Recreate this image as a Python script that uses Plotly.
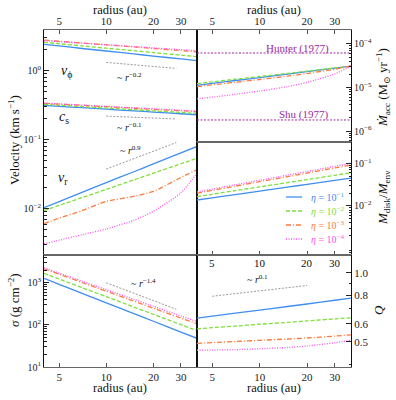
import math
import plotly.graph_objects as go

# ── data ────────────────────────────────────────────────────────────────────
radius = [4, 5, 7, 10, 15, 20, 30, 38]
eta_names = ["10<sup>−1</sup>", "10<sup>−2</sup>", "10<sup>−3</sup>", "10<sup>−4</sup>"]

v_phi = [
    [2.41, 2.29, 2.10, 1.93, 1.75, 1.63, 1.48, 1.40],
    [2.58, 2.46, 2.29, 2.12, 1.95, 1.83, 1.68, 1.60],
    [2.78, 2.67, 2.52, 2.37, 2.21, 2.10, 1.96, 1.88],
    [2.72, 2.64, 2.51, 2.38, 2.24, 2.14, 2.02, 1.95],
]
c_s = [
    [0.315, 0.305, 0.291, 0.277, 0.262, 0.252, 0.238, 0.230],
    [0.326, 0.316, 0.302, 0.288, 0.273, 0.262, 0.249, 0.241],
    [0.337, 0.328, 0.315, 0.301, 0.286, 0.276, 0.263, 0.255],
    [0.340, 0.331, 0.318, 0.305, 0.290, 0.281, 0.267, 0.260],
]
v_r = [
    [0.0104, 0.0127, 0.0173, 0.0239, 0.0344, 0.0447, 0.0646, 0.080],
    [0.0094, 0.0112, 0.0145, 0.0191, 0.0262, 0.0328, 0.0449, 0.054],
    [0.0061, 0.0073, 0.0094, 0.0128, 0.0151, 0.0178, 0.0285, 0.0367],
    [0.0031, 0.0035, 0.0042, 0.0051, 0.0068, 0.0092, 0.0170, 0.033],
]
sigma = [
    [1270, 918, 562, 335, 186, 122, 67.6, 48],
    [1675, 1227, 767, 468, 266, 178, 101, 73],
    [2150, 1596, 1016, 631, 367, 249, 145, 106],
    [2275, 1700, 1094, 687, 405, 277, 163, 120],
]
mdot_acc = [
    [1.12e-5, 1.24e-5, 1.45e-5, 1.69e-5, 2.03e-5, 2.32e-5, 2.78e-5, 3.09e-5],
    [1.23e-5, 1.35e-5, 1.55e-5, 1.79e-5, 2.11e-5, 2.38e-5, 2.81e-5, 3.09e-5],
    [1.05e-5, 1.15e-5, 1.32e-5, 1.53e-5, 1.82e-5, 2.09e-5, 2.63e-5, 3.09e-5],
    [5.5e-6, 6.0e-6, 7.0e-6, 8.3e-6, 1.05e-5, 1.32e-5, 2.05e-5, 3.09e-5],
]
m_ratio = [
    [0.0138, 0.0155, 0.0185, 0.0223, 0.0276, 0.0321, 0.0397, 0.045],
    [0.0166, 0.0188, 0.0229, 0.0280, 0.0353, 0.0416, 0.0524, 0.060],
    [0.0200, 0.0232, 0.0291, 0.0371, 0.0486, 0.0592, 0.0778, 0.0912],
    [0.0214, 0.0249, 0.0314, 0.0401, 0.0528, 0.0644, 0.0851, 0.100],
]
toomre_q = [
    [0.634, 0.647, 0.667, 0.687, 0.713, 0.731, 0.759, 0.775],
    [0.570, 0.577, 0.586, 0.597, 0.608, 0.617, 0.630, 0.637],
    [0.493, 0.497, 0.502, 0.508, 0.515, 0.520, 0.530, 0.537],
    [0.460, 0.461, 0.463, 0.467, 0.473, 0.480, 0.496, 0.509],
]

# power-law guides
guide_r = [10, 28]
guide_vphi = [1.32, 1.08]
guide_cs = [0.22, 0.20]
guide_vr = [0.0376, 0.091]
guide_sigma = [1000, 235]
guide_q_r = [5, 20]
guide_q = [0.79, 0.88]

mdot_hunter = 6.2e-5
mdot_shu = 1.8e-6

xticks = [5, 10, 20, 30]

# ── style ───────────────────────────────────────────────────────────────────
COLORS = ["#3f8ef0", "#7ee03a", "#ff7a3c", "#ff50f0"]
DASHES = ["solid", "4px,2px", "5px,2px,1px,2px", "1px,1.5px"]
PURPLE = "#a02aa0"
GUIDE = "#9a9a9a"
FONT = "Liberation Serif, Times New Roman, DejaVu Serif, serif"
W, H = 396, 400


def px(x):
    return x / W


def py(y):
    return 1 - y / H


XL = [px(44), px(197)]
XR = [px(197), px(351)]
Y_TOP = [py(142), py(30)]
Y_MID = [py(255), py(142)]
Y_BOT = [py(367), py(255)]
Y_VEL = [py(255), py(30)]

fig = go.Figure()


def add_set(data, xa, ya):
    for i, ys in enumerate(data):
        fig.add_trace(go.Scatter(
            x=radius, y=ys, mode="lines", xaxis=xa, yaxis=ya,
            line=dict(color=COLORS[i], dash=DASHES[i], width=1.3, shape="spline", smoothing=0.6),
            showlegend=False, hoverinfo="skip",
        ))


def add_guide(xs, ys, xa, ya):
    fig.add_trace(go.Scatter(
        x=xs, y=ys, mode="lines", xaxis=xa, yaxis=ya,
        line=dict(color=GUIDE, dash="2px,1.5px", width=1),
        showlegend=False, hoverinfo="skip",
    ))


add_set(v_phi, "x", "y")
add_set(c_s, "x", "y")
add_set(v_r, "x", "y")
add_guide(guide_r, guide_vphi, "x", "y")
add_guide(guide_r, guide_cs, "x", "y")
add_guide(guide_r, guide_vr, "x", "y")

add_set(sigma, "x2", "y2")
add_guide(guide_r, guide_sigma, "x2", "y2")

for level in (mdot_hunter, mdot_shu):
    fig.add_trace(go.Scatter(
        x=[radius[0], radius[-1]], y=[level, level], mode="lines",
        xaxis="x3", yaxis="y3", line=dict(color=PURPLE, dash="2px,1.5px", width=1),
        showlegend=False, hoverinfo="skip",
    ))
add_set(mdot_acc, "x3", "y3")

add_set(m_ratio, "x4", "y4")

add_set(toomre_q, "x5", "y5")
add_guide(guide_q_r, guide_q, "x5", "y5")


def minor_log(lo, hi):
    vals = []
    for e in range(lo, hi + 1):
        for m in range(2, 10):
            vals.append(m * 10 ** e)
    return vals


def pow_text(exps):
    return ["10<sup>%s</sup>" % str(e).replace("-", "−") for e in exps]


XRANGE = [math.log10(4), math.log10(38)]

xbase = dict(
    type="log", range=XRANGE, tickvals=xticks, ticktext=[str(t) for t in xticks],
    ticks="inside", ticklen=4, tickcolor="#555", showline=True, linecolor="#666",
    linewidth=1, mirror=True, showgrid=False, zeroline=False, automargin=False,
    tickfont=dict(family=FONT, size=11, color="#222"),
)
ybase = dict(
    type="log", ticks="inside", ticklen=5, tickcolor="#222", showline=True,
    linecolor="#111", linewidth=1, mirror=True, showgrid=False, zeroline=False,
    automargin=False, tickfont=dict(family=FONT, size=10, color="#222"),
)


def yminor(vals):
    return dict(ticks="inside", ticklen=2.5, tickcolor="#222", tickmode="array", tickvals=vals)


fig.update_layout(
    width=W, height=H, margin=dict(l=0, r=0, t=0, b=0),
    plot_bgcolor="rgba(0,0,0,0)", paper_bgcolor="white", showlegend=False,
    font=dict(family=FONT, color="#222"),
    xaxis=dict(xbase, domain=XL, anchor="y", side="top"),
    yaxis=dict(ybase, domain=Y_VEL, anchor="x", range=[-2.67, 0.59],
               tickvals=[0.01, 0.1, 1], ticktext=pow_text([-2, -1, 0]),
               minor=yminor(minor_log(-3, 0))),
    xaxis2=dict(xbase, domain=XL, anchor="y2", side="bottom"),
    yaxis2=dict(ybase, domain=Y_BOT, anchor="x2", range=[1, 3.66],
                tickvals=[10, 100, 1000], ticktext=pow_text([1, 2, 3]),
                minor=yminor(minor_log(1, 3))),
    xaxis3=dict(xbase, domain=XR, anchor="y3", side="top"),
    yaxis3=dict(ybase, domain=Y_TOP, anchor="x3", side="right", range=[-6.25, -3.68],
                tickvals=[1e-6, 1e-5, 1e-4], ticktext=pow_text([-6, -5, -4]),
                minor=yminor(minor_log(-7, -4))),
    xaxis4=dict(xbase, domain=XR, anchor="y4", side="bottom", showticklabels=False),
    yaxis4=dict(ybase, domain=Y_MID, anchor="x4", side="right", range=[-3.15, -0.5],
                tickvals=[0.01, 0.1], ticktext=pow_text([-2, -1]),
                minor=yminor(minor_log(-4, -1))),
    xaxis5=dict(xbase, domain=XR, anchor="y5", side="bottom"),
    yaxis5=dict(ybase, domain=Y_BOT, anchor="x5", side="right", range=[-0.41, 0.077],
                tickvals=[0.5, 0.6, 0.8, 1.0], ticktext=["0.5", "0.6", "0.8", "1.0"],
                tickfont=dict(family=FONT, size=11, color="#222"),
                minor=yminor([0.4, 0.7, 0.9])),
)


def note(text, x, y, size=12, color="#111", angle=0, xanchor="center"):
    fig.add_annotation(
        text=text, x=px(x), y=py(y), xref="paper", yref="paper", showarrow=False,
        textangle=angle, xanchor=xanchor, yanchor="middle",
        font=dict(family=FONT, size=size, color=color),
    )


# radius labels along the top edge of the Q panel (same log scale as the axes)
for t in xticks:
    frac = (math.log10(t) - XRANGE[0]) / (XRANGE[1] - XRANGE[0])
    note(str(t), 197 + frac * 154, 263, 11, "#111")

# axis titles
note("radius (au)", 120, 10, 12.5)
note("radius (au)", 274, 10, 12.5)
note("radius (au)", 120, 388, 12.5)
note("radius (au)", 274, 388, 12.5)
note("Velocity (km s<sup>−1</sup>)", 14, 140, 13, angle=-90)
note("<i>σ</i> (g cm<sup>−2</sup>)", 14, 300, 13, angle=-90)
note("<i>Ṁ</i><sub>acc</sub> (M<sub>⊙</sub> yr<sup>−1</sup>)", 383, 88, 13, angle=-90)
note("<i>M</i><sub>disk</sub>/<i>M</i><sub>env</sub>", 383, 198, 13, angle=-90)
note("<i>Q</i>", 378, 310, 13, angle=-90)

# curve labels
note("<i>v</i><sub>ϕ</sub>", 66, 72, 14)
note("<i>c</i><sub>s</sub>", 64, 117, 14)
note("<i>v</i><sub>r</sub>", 63, 178, 14)
note("~ <i>r</i><sup>−0.2</sup>", 129, 77, 10)
note("~ <i>r</i><sup>−0.1</sup>", 129, 127, 10)
note("~ <i>r</i><sup>0.9</sup>", 130, 150, 10)
note("~ <i>r</i><sup>−1.4</sup>", 143, 283, 10)
note("~ <i>r</i><sup>0.1</sup>", 257, 279, 10)
note("Hunter (1977)", 297, 48, 11, PURPLE)
note("Shu (1977)", 304, 115, 11, PURPLE)

# legend
rows = [197, 211, 225, 239]
for i, yrow in enumerate(rows):
    fig.add_shape(
        type="line", xref="paper", yref="paper",
        x0=px(286), x1=px(302), y0=py(yrow), y1=py(yrow),
        line=dict(color=COLORS[i], dash=DASHES[i], width=1.3),
    )
    note("<i>η</i> = " + eta_names[i], 309, yrow, 10, COLORS[i], xanchor="left")

# drop the page's default 8px body margin so the figure sits at the corner
fig.write_html(
    "out.html",
    config={"displayModeBar": False},
    post_script="document.body.style.margin='0';",
)
